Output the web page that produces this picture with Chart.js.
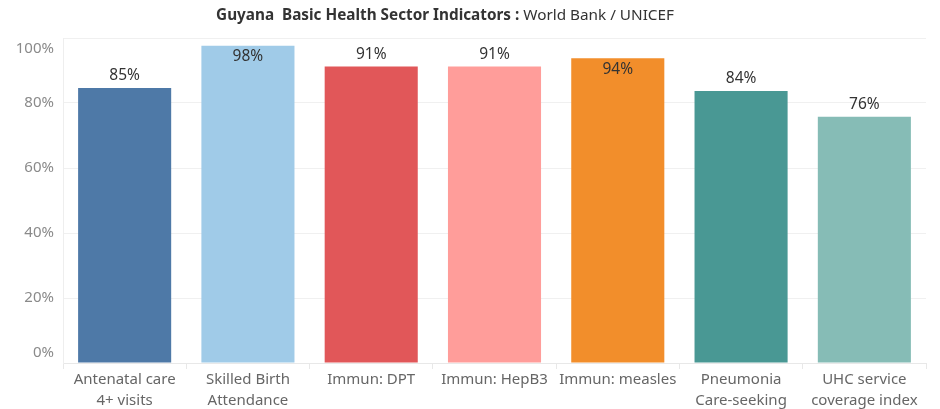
<!DOCTYPE html>
<html>
<head>
<meta charset="utf-8">
<script src="https://cdn.jsdelivr.net/npm/chart.js@4.4.1/dist/chart.umd.min.js"></script>
<style>
  html, body { margin: 0; padding: 0; background: #fff; }
  #wrap { width: 940px; height: 409px; position: relative; }
</style>
</head>
<body>
<div id="wrap"><canvas id="healthChart" width="940" height="409"></canvas></div>
<script>
const categories = [
    ['Antenatal care', '4+ visits'],
    ['Skilled Birth', 'Attendance'],
    'Immun: DPT',
    'Immun: HepB3',
    'Immun: measles',
    ['Pneumonia', 'Care-seeking'],
    ['UHC service', 'coverage index']
];
const values = [84.6, 97.6, 91.2, 91.2, 93.8, 83.7, 75.8];
const barColors = ['#4e79a7', '#a0cbe8', '#e15759', '#ff9d9a', '#f28e2b', '#499894', '#86bcb6'];
const yTicks = [0, 20, 40, 60, 80, 100];
const titleBold = 'Guyana  Basic Health Sector Indicators : ';
const titleRest = 'World Bank / UNICEF';

const FONT = '"Noto Sans", sans-serif';

// title + y labels + value labels, drawn like tableau does
const extras = {
    id: 'extras',
    afterDraw(chart) {
        const ctx = chart.ctx;
        const area = chart.chartArea;
        const y = chart.scales.y;

        ctx.save();
        // title
        ctx.textBaseline = 'middle';
        ctx.font = 'bold 15.3px ' + FONT;
        const w1 = ctx.measureText(titleBold).width;
        ctx.font = '15.3px ' + FONT;
        const w2 = ctx.measureText(titleRest).width;
        let tx = 445 - (w1 + w2) / 2;
        ctx.fillStyle = '#333';
        ctx.textAlign = 'left';
        ctx.font = 'bold 15.3px ' + FONT;
        ctx.fillText(titleBold, tx, 16);
        ctx.font = '15.3px ' + FONT;
        ctx.fillText(titleRest, tx + w1, 16);

        // y tick labels, end ones pulled inside
        ctx.font = '15px ' + FONT;
        ctx.fillStyle = '#8a8a8a';
        ctx.textAlign = 'right';
        yTicks.forEach(v => {
            let py = y.getPixelForValue(v);
            if (v === 0) py -= 10;
            if (v === 100) py += 11;
            ctx.fillText(v + '%', 54, py);
        });

        // value labels
        ctx.font = '15.5px ' + FONT;
        ctx.fillStyle = '#333';
        ctx.textAlign = 'center';
        const meta = chart.getDatasetMeta(0);
        meta.data.forEach((bar, i) => {
            let ly = bar.y - 12;
            if (ly - 9 < area.top + 2) ly = bar.y + 11;
            ctx.fillText(Math.round(values[i]) + '%', bar.x, ly);
        });
        ctx.restore();
    }
};

new Chart(document.getElementById('healthChart'), {
    type: 'bar',
    data: {
        labels: categories,
        datasets: [{
            data: values,
            backgroundColor: barColors,
            borderWidth: 0,
            categoryPercentage: 1,
            barPercentage: 0.755
        }]
    },
    options: {
        responsive: false,
        animation: false,
        events: [],
        layout: { padding: { top: 38, right: 14, left: 0, bottom: 0 } },
        plugins: {
            legend: { display: false },
            tooltip: { enabled: false }
        },
        scales: {
            x: {
                grid: {
                    display: true,
                    drawOnChartArea: false,
                    offset: true,
                    tickLength: 6,
                    color: '#e8e8e8'
                },
                border: { color: '#e8e8e8' },
                ticks: {
                    padding: 0,
                    color: '#666',
                    maxRotation: 0,
                    autoSkip: false,
                    font: { family: FONT, size: 15, lineHeight: 1.4 }
                },
                afterFit(scale) { scale.height = 46; }
            },
            y: {
                min: 0,
                max: 100,
                ticks: { display: false, stepSize: 20 },
                grid: { color: '#f0f0f0', drawTicks: false },
                border: { color: '#eeeeee' },
                afterFit(scale) { scale.width = 63; }
            }
        }
    },
    plugins: [extras]
});
</script>
</body>
</html>
